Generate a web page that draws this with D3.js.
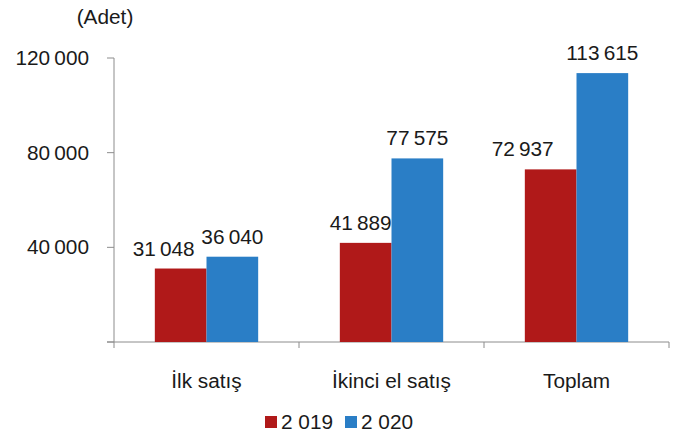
<!DOCTYPE html>
<html>

<head>
  <meta charset="utf-8">
  <style type="text/css">
    body {
      margin: 0;
      background: #fff;
    }
    svg text {
      font-family: "Liberation Sans", Arial, sans-serif;
      font-size: 20px;
      fill: #1a1a1a;
    }
  </style>
  <title>Adet</title>
</head>

<body>
  <script src="https://cdn.jsdelivr.net/npm/d3@7"></script>
  <script>
    // data
    var categories = ["İlk satış", "İkinci el satış", "Toplam"];
    var years = ["2 019", "2 020"];
    var values2019 = [31048, 41889, 72937];
    var values2020 = [36040, 77575, 113615];
    var yTicks = [0, 40000, 80000, 120000];
    var unitLabel = "(Adet)";

    var colors = ["#b01919", "#2a7ec6"];
    // the 2019 labels were nudged left by hand in the original
    var redLabelShift = [-17, -5, -28];
    var stretch = 1.04; // source text is a bit wide

    var width = 677,
      height = 434;

    var svg = d3.select("body").append("svg")
      .attr("width", width)
      .attr("height", height);

    var fmt = d3.formatLocale({ decimal: ",", thousands: "\u2009", grouping: [3], currency: ["", ""] }).format(",d");

    function wideText(sel, px, py) {
      return sel.attr("transform", function (d, i) {
        return "translate(" + px(d, i) + "," + py(d, i) + ") scale(" + stretch + ",1)";
      });
    }

    var x = d3.scaleBand()
      .domain(categories)
      .range([114, 669])
      .padding(0);

    var x1 = d3.scaleBand()
      .domain(years)
      .range([0, x.bandwidth()])
      .paddingInner(0)
      .paddingOuter(0.79);

    var y = d3.scaleLinear()
      .domain([0, 120000])
      .range([342, 58]);

    var axisColor = "#8c8c8c";

    // y axis
    var gy = svg.append("g");
    gy.append("line")
      .attr("x1", 114).attr("x2", 114)
      .attr("y1", y(120000)).attr("y2", y(0) + 6)
      .attr("stroke", axisColor);
    gy.selectAll("line.tk")
      .data(yTicks)
      .enter().append("line")
      .attr("class", "tk")
      .attr("x1", 107).attr("x2", 114)
      .attr("y1", d => y(d)).attr("y2", d => y(d))
      .attr("stroke", axisColor);
    gy.selectAll("text")
      .data(yTicks.filter(d => d > 0))
      .enter().append("text")
      .attr("text-anchor", "end")
      .attr("dy", "0.35em")
      .text(d => fmt(d))
      .call(wideText, () => 89, d => y(d));

    // x axis
    var gx = svg.append("g")
      .attr("transform", "translate(0," + y(0) + ")");
    gx.append("line")
      .attr("x1", 107).attr("x2", 669)
      .attr("y1", 0).attr("y2", 0)
      .attr("stroke", axisColor);
    gx.selectAll("line.tk")
      .data(categories)
      .enter().append("line")
      .attr("class", "tk")
      .attr("x1", d => x(d) + x.bandwidth()).attr("x2", d => x(d) + x.bandwidth())
      .attr("y1", 0).attr("y2", 6)
      .attr("stroke", axisColor);
    gx.selectAll("text")
      .data(categories)
      .enter().append("text")
      .attr("text-anchor", "middle")
      .text(d => d)
      .call(wideText, d => x(d) + x.bandwidth() / 2, () => 46);

    // bars
    var series = [values2019, values2020];
    var groups = svg.selectAll("g.cat")
      .data(categories)
      .enter().append("g")
      .attr("class", "cat")
      .attr("transform", d => "translate(" + x(d) + ",0)");

    groups.each(function (c, i) {
      var g = d3.select(this);
      years.forEach(function (yr, s) {
        var v = series[s][i];
        g.append("rect")
          .attr("x", x1(yr))
          .attr("y", y(v))
          .attr("width", x1.bandwidth())
          .attr("height", y(0) - y(v))
          .attr("fill", colors[s]);
        g.append("text")
          .attr("text-anchor", "middle")
          .text(fmt(v))
          .call(wideText,
            () => x1(yr) + x1.bandwidth() / 2 + (s === 0 ? redLabelShift[i] : 0),
            () => y(v) - 13);
      });
    });

    // unit label
    svg.append("text")
      .attr("text-anchor", "middle")
      .text(unitLabel)
      .call(wideText, () => 105, () => 24);

    // legend
    var legend = svg.append("g")
      .attr("transform", "translate(265,415)");
    var item = legend.selectAll("g")
      .data(years)
      .enter().append("g")
      .attr("transform", (d, i) => "translate(" + i * 80 + ",0)");
    item.append("rect")
      .attr("width", 12).attr("height", 12)
      .attr("y", 1)
      .attr("fill", (d, i) => colors[i]);
    item.append("text")
      .text(d => d)
      .call(wideText, () => 16, () => 14);
  </script>
</body>

</html>
